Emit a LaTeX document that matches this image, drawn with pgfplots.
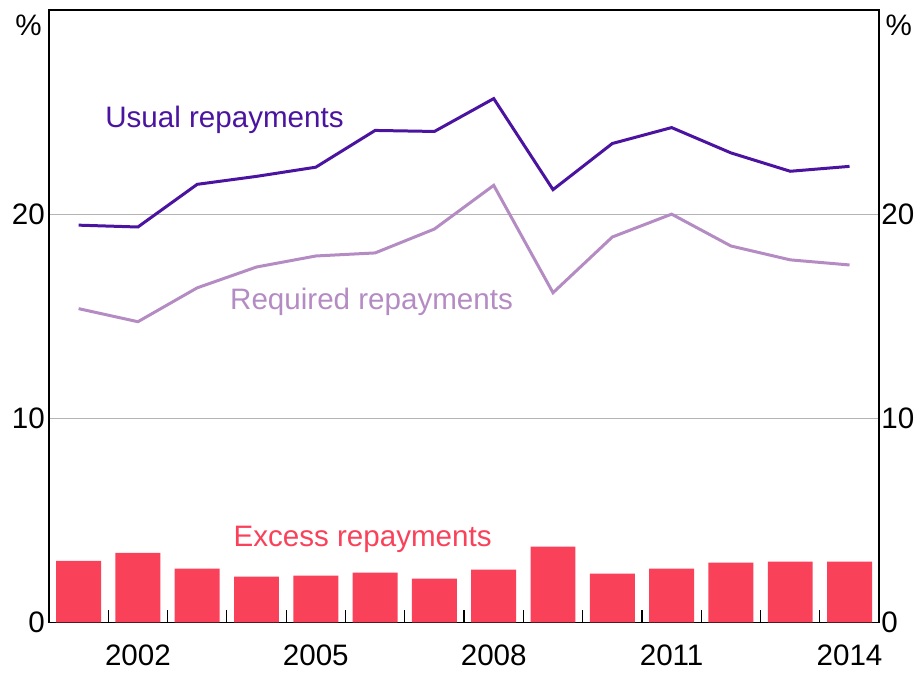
\documentclass[border=0pt]{standalone}
\usepackage{fontspec}
\setmainfont{Liberation Sans}
\usepackage{pgfplots}
\pgfplotsset{compat=1.18}
\definecolor{usual}{RGB}{75,20,160}
\definecolor{req}{RGB}{180,140,195}
\definecolor{exc}{RGB}{250,65,90}
\definecolor{gridc}{RGB}{180,180,180}
\begin{document}
\begin{tikzpicture}
\path (0pt,0pt) rectangle (460.5pt,335.5pt);
\pgfplotsset{
  common/.style={
    at={(24.5pt,24pt)}, anchor=south west, scale only axis,
    width=415.5pt, height=306.5pt,
    xmin=2000.5, xmax=2014.5, ymin=0, ymax=30,
    ytick={0,10,20},
    major tick length=0pt,
    tick label style={font=\fontsize{14.8}{17}\selectfont},
    /pgf/number format/assume math mode=true,
    axis line style={line width=0.75pt, black},
  }
}
\begin{axis}[common,
  xtick={2002,2005,2008,2011,2014},
  xticklabel style={/pgf/number format/1000 sep={}, yshift=-7.5pt},
  minor xtick={2001.5,2002.5,...,2013.5},
  tick align=inside,
  minor tick length=6pt,
  xtick pos=lower,
  ytick pos=left,
  yticklabel style={xshift=1.5pt},
  ymajorgrids,
  major grid style={gridc, line width=0.6pt},
  minor tick style={line width=0.6pt, black},
  clip=false,
]
\addplot[ybar, bar width=0.758, fill=exc, draw=none] coordinates {
(2001,3.02) (2002,3.41) (2003,2.63) (2004,2.24) (2005,2.29) (2006,2.44) (2007,2.15)
(2008,2.59) (2009,3.71) (2010,2.39) (2011,2.63) (2012,2.93) (2013,2.98) (2014,2.98)};
\addplot[usual, line width=1.5pt] coordinates {
(2001,19.46) (2002,19.37) (2003,21.46) (2004,21.85) (2005,22.30) (2006,24.10) (2007,24.05)
(2008,25.66) (2009,21.20) (2010,23.46) (2011,24.24) (2012,23.00) (2013,22.10) (2014,22.34)};
\addplot[req, line width=1.5pt] coordinates {
(2001,15.37) (2002,14.73) (2003,16.39) (2004,17.41) (2005,17.95) (2006,18.10) (2007,19.27)
(2008,21.41) (2009,16.15) (2010,18.88) (2011,20.00) (2012,18.44) (2013,17.76) (2014,17.51)};
\node[usual, font=\fontsize{14.8}{17}\selectfont] at (axis cs:2003.46,24.62) {Usual repayments};
\node[req, font=\fontsize{14.8}{17}\selectfont] at (axis cs:2005.94,15.70) {Required repayments};
\node[exc, font=\fontsize{14.8}{17}\selectfont] at (axis cs:2005.79,4.05) {Excess repayments};
\node[anchor=north east, inner sep=0pt, font=\fontsize{14.8}{17}\selectfont] at ([xshift=-3.5pt,yshift=-2.5pt]rel axis cs:0,1) {\%};
\node[anchor=north west, inner sep=0pt, font=\fontsize{14.8}{17}\selectfont] at ([xshift=3pt,yshift=-2.5pt]rel axis cs:1,1) {\%};
\end{axis}
\begin{axis}[common,
  hide x axis,
  axis y line*=right,
  yticklabel pos=right,
  yticklabel style={xshift=-2.4pt},
]
\end{axis}
\end{tikzpicture}
\end{document}
